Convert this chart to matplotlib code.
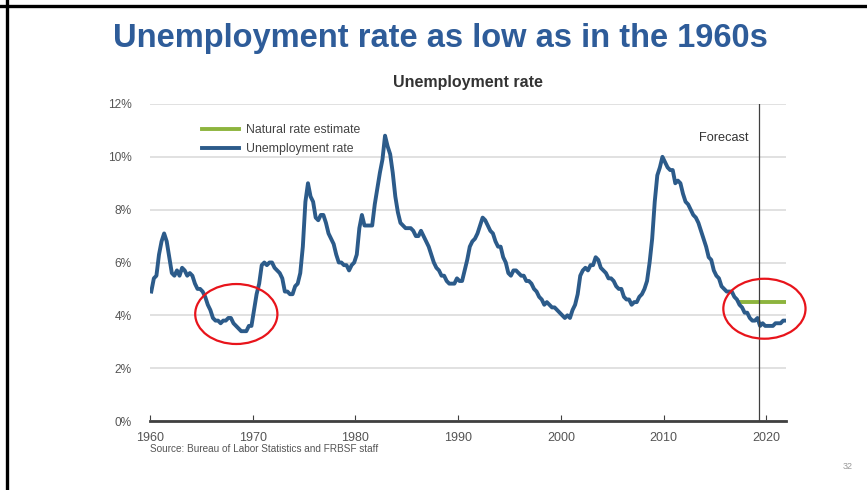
import matplotlib
matplotlib.use("Agg")
import matplotlib.pyplot as plt
import numpy as np
from matplotlib.patches import Ellipse
from matplotlib.lines import Line2D

plt.rcParams['font.family'] = ['Liberation Sans', 'DejaVu Sans']

# quarterly unemployment rate (%), 1960Q1 onwards
rate = [
    4.9, 5.4, 5.5, 6.3,   # 1960
    6.8, 7.1, 6.8, 6.2,   # 1961
    5.6, 5.5, 5.7, 5.5,   # 1962
    5.8, 5.7, 5.5, 5.6,   # 1963
    5.5, 5.2, 5.0, 5.0,   # 1964
    4.9, 4.7, 4.4, 4.2,   # 1965
    3.9, 3.8, 3.8, 3.7,   # 1966
    3.8, 3.8, 3.9, 3.9,   # 1967
    3.7, 3.6, 3.5, 3.4,   # 1968
    3.4, 3.4, 3.6, 3.6,   # 1969
    4.2, 4.8, 5.2, 5.9,   # 1970
    6.0, 5.9, 6.0, 6.0,   # 1971
    5.8, 5.7, 5.6, 5.4,   # 1972
    4.9, 4.9, 4.8, 4.8,   # 1973
    5.1, 5.2, 5.6, 6.6,   # 1974
    8.3, 9.0, 8.5, 8.3,   # 1975
    7.7, 7.6, 7.8, 7.8,   # 1976
    7.5, 7.1, 6.9, 6.7,   # 1977
    6.3, 6.0, 6.0, 5.9,   # 1978
    5.9, 5.7, 5.9, 6.0,   # 1979
    6.3, 7.3, 7.8, 7.4,   # 1980
    7.4, 7.4, 7.4, 8.2,   # 1981
    8.8, 9.4, 9.9, 10.8,  # 1982
    10.4, 10.1, 9.4, 8.5, # 1983
    7.9, 7.5, 7.4, 7.3,   # 1984
    7.3, 7.3, 7.2, 7.0,   # 1985
    7.0, 7.2, 7.0, 6.8,   # 1986
    6.6, 6.3, 6.0, 5.8,   # 1987
    5.7, 5.5, 5.5, 5.3,   # 1988
    5.2, 5.2, 5.2, 5.4,   # 1989
    5.3, 5.3, 5.7, 6.1,   # 1990
    6.6, 6.8, 6.9, 7.1,   # 1991
    7.4, 7.7, 7.6, 7.4,   # 1992
    7.2, 7.1, 6.8, 6.6,   # 1993
    6.6, 6.2, 6.0, 5.6,   # 1994
    5.5, 5.7, 5.7, 5.6,   # 1995
    5.5, 5.5, 5.3, 5.3,   # 1996
    5.2, 5.0, 4.9, 4.7,   # 1997
    4.6, 4.4, 4.5, 4.4,   # 1998
    4.3, 4.3, 4.2, 4.1,   # 1999
    4.0, 3.9, 4.0, 3.9,   # 2000
    4.2, 4.4, 4.8, 5.5,   # 2001
    5.7, 5.8, 5.7, 5.9,   # 2002
    5.9, 6.2, 6.1, 5.8,   # 2003
    5.7, 5.6, 5.4, 5.4,   # 2004
    5.3, 5.1, 5.0, 5.0,   # 2005
    4.7, 4.6, 4.6, 4.4,   # 2006
    4.5, 4.5, 4.7, 4.8,   # 2007
    5.0, 5.3, 6.0, 6.9,   # 2008
    8.3, 9.3, 9.6, 10.0,  # 2009
    9.8, 9.6, 9.5, 9.5,   # 2010
    9.0, 9.1, 9.0, 8.6,   # 2011
    8.3, 8.2, 8.0, 7.8,   # 2012
    7.7, 7.5, 7.2, 6.9,   # 2013
    6.6, 6.2, 6.1, 5.7,   # 2014
    5.5, 5.4, 5.1, 5.0,   # 2015
    4.9, 4.9, 4.9, 4.7,   # 2016
    4.6, 4.4, 4.3, 4.1,   # 2017
    4.1, 3.9, 3.8, 3.8,   # 2018
    3.9, 3.6, 3.7, 3.6,   # 2019
    3.6, 3.6, 3.6, 3.7,   # 2020 (forecast)
    3.7, 3.7, 3.8, 3.8,   # 2021 (forecast)
]
start_year = 1960

natural_years = [2017.4, 2021.9]
natural_rate = [4.5, 4.5]

forecast_start = 2019.3
circle_centers = [(1968.4, 4.05), (2019.8, 4.25)]

years = start_year + np.arange(len(rate)) / 4 + 0.125

fig = plt.figure(figsize=(8.67, 4.9), dpi=100)
ax = fig.add_axes([150 / 867, 1 - 421 / 490, 636 / 867, 317 / 490])

ax.plot(years, rate, color='#2c5b8a', lw=2.8, solid_joinstyle='round', zorder=3)
ax.plot(natural_years, natural_rate, color='#8db43e', lw=2.8, zorder=2)
ax.axvline(forecast_start, color='#404040', lw=0.9, zorder=4)

ax.set_xlim(1960, 2021.9)
ax.set_ylim(0, 12)
ax.set_yticks(range(0, 13, 2))
ax.set_yticklabels([f'{v}%' for v in range(0, 13, 2)])
ax.set_xticks(range(1960, 2021, 10))
ax.grid(axis='y', color='#dcdcdc', lw=1.2)
ax.set_axisbelow(True)
for s in ['top', 'right', 'left']:
    ax.spines[s].set_visible(False)
ax.spines['bottom'].set_color('#404040')
ax.spines['bottom'].set_linewidth(2)
ax.tick_params(axis='y', length=0, labelsize=8.6, labelcolor='#555555', pad=13)
ax.tick_params(axis='x', direction='in', length=4, color='#404040',
               labelsize=9, labelcolor='#555555', pad=8)

ax.text(2015.8, 10.7, 'Forecast', ha='center', va='center', fontsize=9.2, color='#333333')

handles = [Line2D([], [], color='#8db43e', lw=2.8),
           Line2D([], [], color='#2c5b8a', lw=2.8)]
ax.legend(handles, ['Natural rate estimate', 'Unemployment rate'],
          loc='upper left', bbox_to_anchor=(0.065, 0.972), frameon=False,
          fontsize=8.8, handlelength=3.0, handletextpad=0.6,
          labelspacing=0.6, labelcolor='#444444')

for cx, cy in circle_centers:
    ax.add_patch(Ellipse((cx, cy), 8.0, 2.27, fill=False, ec='#e8141b', lw=1.6,
                         clip_on=False, zorder=6))

fig.text(468 / 867, 1 - 83 / 490, 'Unemployment rate', ha='center', va='center',
         fontsize=11.5, fontweight='bold', color='#333333')
fig.text(440 / 867, 1 - 39 / 490, 'Unemployment rate as low as in the 1960s',
         ha='center', va='center', fontsize=23.5, fontweight='bold', color='#2e5c99')
fig.text(150 / 867, 1 - 449 / 490, 'Source: Bureau of Labor Statistics and FRBSF staff',
         ha='left', va='center', fontsize=7.2, color='#555555')
fig.text(848 / 867, 1 - 466 / 490, '32', ha='center', va='center', fontsize=6.5, color='#999999')

# slide frame (top and left edges)
fig.add_artist(Line2D([0, 1], [1 - 6.5 / 490] * 2, color='black', lw=2.4,
                      transform=fig.transFigure))
fig.add_artist(Line2D([6.5 / 867] * 2, [0, 1], color='black', lw=2.4,
                      transform=fig.transFigure))

fig.savefig('out.png', dpi=100)
